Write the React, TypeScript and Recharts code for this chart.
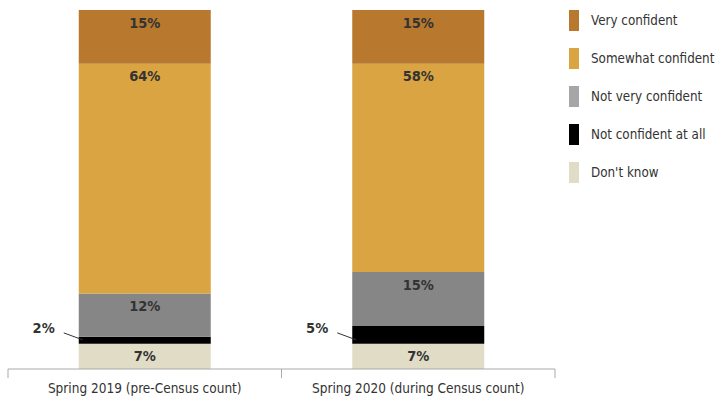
import { BarChart, Bar, XAxis, YAxis, LabelList } from "recharts";

const CATEGORIES = ["Spring 2019 (pre-Census count)", "Spring 2020 (during Census count)"];
const DONT_KNOW = [7, 7];
const NOT_AT_ALL = [2, 5];
const NOT_VERY = [12, 15];
const SOMEWHAT = [64, 58];
const VERY = [15, 15];

const SERIES = [
  { key: "dontKnow", name: "Don't know", color: "#E0DCC6", legend: "#E0DCC6" },
  { key: "notAtAll", name: "Not confident at all", color: "#000000", legend: "#000000" },
  { key: "notVery", name: "Not very confident", color: "#868686", legend: "#A6A6A6" },
  { key: "somewhat", name: "Somewhat confident", color: "#D9A441", legend: "#D9A441" },
  { key: "very", name: "Very confident", color: "#B8782E", legend: "#B8782E" },
];

const data = CATEGORIES.map((cat, i) => ({
  cat,
  dontKnow: DONT_KNOW[i],
  notAtAll: NOT_AT_ALL[i],
  notVery: NOT_VERY[i],
  somewhat: SOMEWHAT[i],
  very: VERY[i],
}));

const FONT = "'DejaVu Sans Condensed', 'Liberation Sans Narrow', 'Roboto', sans-serif";
const W = 719;
const H = 401;
const LEFT = 8;
const RIGHT = 164;
const BAND = (W - LEFT - RIGHT) / CATEGORIES.length;

const pct = (v: any) => `${v}%`;

// label near the top of a segment
const TopLabel = (props: any) => {
  const { x, y, width, value } = props;
  return (
    <text
      x={x + width / 2}
      y={y + 12.5}
      textAnchor="middle"
      dominantBaseline="central"
      fontFamily={FONT}
      fontWeight="bold"
      fontSize={14.5}
      fill="#333"
    >
      {pct(value)}
    </text>
  );
};

const CenterLabel = (props: any) => {
  const { x, y, width, height, value } = props;
  return (
    <text
      x={x + width / 2}
      y={y + height / 2}
      textAnchor="middle"
      dominantBaseline="central"
      fontFamily={FONT}
      fontWeight="bold"
      fontSize={14.5}
      fill="#333"
    >
      {pct(value)}
    </text>
  );
};

const SideLabel = (props: any) => {
  const { x, y, height, value } = props;
  const bottom = y + height;
  return (
    <g>
      <line x1={x - 15} y1={bottom - 11} x2={x + 4} y2={bottom - 4} stroke="#333" strokeWidth={1} />
      <text
        x={x - 24}
        y={bottom - 16}
        textAnchor="end"
        dominantBaseline="central"
        fontFamily={FONT}
        fontWeight="bold"
        fontSize={14.5}
        fill="#333"
      >
        {pct(value)}
      </text>
    </g>
  );
};

const AxisTick = (props: any) => {
  const { x, y, payload, index } = props;
  const half = BAND / 2;
  return (
    <g>
      <line x1={x - half} y1={y - 8} x2={x - half} y2={y + 1} stroke="#aaa" />
      {index === CATEGORIES.length - 1 && (
        <line x1={x + half} y1={y - 8} x2={x + half} y2={y + 1} stroke="#aaa" />
      )}
      <text x={x} y={y + 11} textAnchor="middle" dominantBaseline="central" fontFamily={FONT} fontSize={13.5} fill="#333">
        {payload.value}
      </text>
    </g>
  );
};

const LegendBox = () => (
  <div style={{ position: "absolute", left: 569, top: 10 }}>
    {[...SERIES].reverse().map((s) => (
      <div key={s.key} style={{ display: "flex", alignItems: "center", height: 38 }}>
        <div style={{ width: 10, height: 21, background: s.legend, marginRight: 12, marginTop: -17 }} />
        <span style={{ fontFamily: FONT, fontSize: 13.3, color: "#333", whiteSpace: "nowrap", marginTop: -17 }}>
          {s.name}
        </span>
      </div>
    ))}
  </div>
);

export default function App() {
  return (
    <div style={{ position: "absolute", left: 0, top: 0, width: W, height: H, background: "#fff" }}>
      <BarChart width={W} height={H} data={data} margin={{ top: 10, right: RIGHT, left: LEFT, bottom: 0 }} barCategoryGap={70.75}>
        <XAxis
          dataKey="cat"
          axisLine={{ stroke: "#aaa" }}
          tickLine={false}
          tick={<AxisTick />}
          height={32}
          interval={0}
        />
        <YAxis hide domain={[0, 100]} />
        {SERIES.map((s) => (
          <Bar key={s.key} dataKey={s.key} name={s.name} stackId="a" fill={s.color} isAnimationActive={false}>
            {s.key === "notAtAll" ? (
              <LabelList dataKey={s.key} content={<SideLabel />} />
            ) : s.key === "dontKnow" ? (
              <LabelList dataKey={s.key} content={<CenterLabel />} />
            ) : (
              <LabelList dataKey={s.key} content={<TopLabel />} />
            )}
          </Bar>
        ))}
      </BarChart>
      <LegendBox />
    </div>
  );
}
